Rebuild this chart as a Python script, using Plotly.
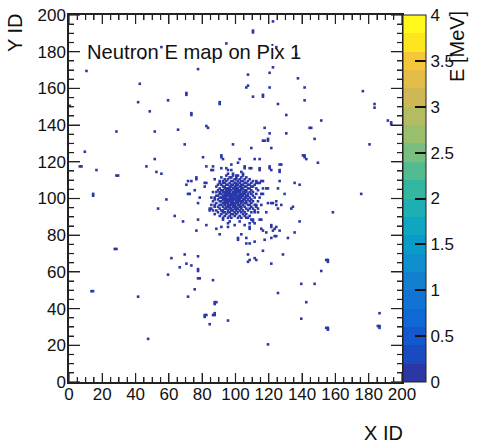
import numpy as np
import plotly.graph_objects as go

# (X ID, Y ID) of hit cells
upper_left_cells = [(10,169),(0,150),(9,125),(6,117),(7,117),(16,115),(14,102),(14,101),(28,136),(28,112),(29,112),
 (42,162),(41,152),(48,147),(44,176),(55,182),(59,153),(51,136),(51,121),(46,117),(52,114),(55,113),(70,157),(70,156),
 (73,146),(73,145),(65,137),(69,129),(77,170),(90,152),(90,151),(82,139),(83,138),(98,129),(94,184),(80,122),(91,123),
 (91,122),(92,121),(97,118),(101,119),(102,121),(82,117),(86,117),(85,115),(86,115),(91,116),(94,116),(87,110),(76,111),
 (76,110),(71,109),(73,109),(70,107),(81,108),(82,108),(81,106),(75,104),(71,102),(72,102),(78,100),(85,100),(87,100),(58,99)]
upper_right_cells = [(122,196),(110,190),(110,191),(124,182),(136,178),(107,167),(120,168),(122,171),(137,165),(106,160),
 (107,161),(120,160),(141,160),(110,155),(116,156),(116,155),(141,153),(176,158),(125,151),(183,151),(183,149),(130,145),
 (151,142),(191,142),(193,141),(193,140),(117,138),(144,138),(145,138),(120,135),(130,135),(147,132),(116,131),(117,131),
 (119,132),(119,131),(180,129),(109,127),(121,127),(140,123),(141,123),(141,122),(142,121),(111,121),(114,121),(149,119),
 (126,118),(127,118),(105,117),(105,116),(108,116),(109,116),(114,116),(114,115),(120,117),(120,116),(121,115),(126,115),
 (126,114),(126,109),(135,108),(138,107),(115,109),(116,109),(116,105),(118,105),(119,105),(125,105),(115,102),(116,102),
 (129,102),(175,102)]
lower_left_cells = [(53,94),(63,90),(68,87),(77,88),(77,97),(76,82),(82,85),(88,83),(91,84),(90,80),(92,88),(95,86),(95,84),
 (96,87),(99,85),(101,78),(101,77),(102,87),(27,72),(28,72),(69,69),(77,68),(61,67),(70,64),(73,63),(66,62),(77,61),(77,60),
 (59,58),(77,56),(78,56),(86,55),(75,50),(13,49),(14,49),(41,46),(71,46),(87,43),(88,43),(87,42),(81,36),(82,36),(81,35),
 (86,36),(87,37),(87,36),(95,33),(84,31),(47,23)]
lower_right_cells = [(119,20),(158,92),(138,87),(135,81),(128,69),(131,78),(121,78),(123,79),(124,79),(117,77),(106,78),
 (106,75),(108,75),(111,76),(116,71),(107,69),(111,67),(112,66),(107,65),(108,66),(121,64),(154,66),(155,66),(155,65),
 (151,60),(139,53),(147,53),(125,48),(142,43),(186,37),(139,34),(154,29),(155,29),(155,28),(185,30),(186,30),(186,29),
 (133,94),(134,95),(119,97),(122,97),(124,98),(127,96),(125,94),(118,92),(115,83),(116,82),(118,81),(121,85),(121,84),
 (122,82),(123,83),(124,84),(126,82),(114,88),(115,88),(108,84),(108,83),(111,86),(103,80),(105,85)]
halo_cells = [(95,115),(97,115),(103,114),(104,113),(95,113),(98,113),(100,112),(108,110),(110,109),(112,108),(114,108),
 (90,108),(86,103),(88,103),(90,103),(87,96),(85,94),(84,93),(90,94),(92,92),(94,91),(103,89),(106,91),(106,89),(109,88),
 (110,88),(108,86),(110,87),(111,92),(113,92),(110,94),(113,94),(112,96),(115,96),(118,92),(124,98),(124,96),(125,94),(121,97)]
core_rows = {
 112:[94,98,101,104], 111:[91,96,97,100,103,106], 110:[93,95,99,100,102,105,108],
 109:[90,92,94,97,98,101,103,104,107,110,112], 108:[92,93,96,99,100,102,105,106,109,113],
 107:[89,91,94,95,97,98,100,101,103,104,107,108,111], 106:[88,92,93,96,97,99,100,102,103,105,106,109,110],
 105:[90,93,94,95,96,98,99,100,101,103,104,107,108,112], 104:[89,91,92,94,95,96,97,99,100,101,102,103,105,106,109,113],
 103:[92,93,94,95,96,98,99,100,101,102,104,105,106,108,110], 102:[90,91,93,94,95,96,97,98,99,100,102,103,104,105,107,109,112],
 101:[88,89,92,93,94,95,96,97,98,99,100,101,102,103,104,106,107,110],
 100:[85,90,91,92,93,94,96,97,98,99,100,101,102,103,105,106,108,111,114],
 99:[87,89,92,93,94,95,96,97,98,99,100,101,102,104,105,107,109],
 98:[86,90,91,93,94,95,96,97,98,100,101,102,103,104,106,108,110,113],
 97:[88,92,93,94,95,97,98,99,100,101,103,105,106,109], 96:[85,90,91,93,95,96,97,98,99,101,102,104,107,108,111],
 95:[87,89,92,94,95,96,98,99,100,102,103,105,109,112], 94:[84,90,93,94,96,97,99,100,101,103,106,108,110],
 93:[86,88,91,92,95,97,98,100,102,104,107,111], 92:[89,93,95,96,99,101,103,105,109], 91:[87,91,94,97,98,100,104,106],
 90:[90,93,96,99,102,105,108], 89:[92,95,97,101,103,107]}
base_energy = 0.1
hot_cells = {(99,100):0.3, (100,99):0.3, (129,102):0.3, (14,49):0.3, (100,100):0.3, (98,101):0.3}

band_colors = ["#2a37a5","#1a4ac0","#1458cd","#1068d4","#1174d4","#1380cf","#0f8fcd","#0a9cc9","#0fa6c2","#1eafb4",
 "#33b7a0","#52bc90","#78bf7f","#99be6c","#b4bc62","#ceb755","#e3bd47","#f5c63a","#fde61e","#fff81a"]
z_min, z_max = 0, 4
bar_ticks = [0,0.5,1,1.5,2,2.5,3,3.5,4]
bar_labels = ["0","0.5","1","1.5","2","2.5","3","3.5","4"]
major_ticks = list(range(0,201,20))
minor_ticks = [v for v in range(0,201,5) if v % 20]

energy = {}
for cells in (upper_left_cells, upper_right_cells, lower_left_cells, lower_right_cells, halo_cells):
    for cell in cells:
        energy[cell] = base_energy
for yv, xvs in core_rows.items():
    for xv in xvs:
        energy[(xv, yv)] = base_energy
energy.update(hot_cells)
cell_x = np.array([c[0] for c in energy]) + 0.5
cell_y = np.array([c[1] for c in energy]) + 0.5
cell_e = np.array(list(energy.values()))

n = len(band_colors)
scale = []
for i, c in enumerate(band_colors):
    scale += [[i/n, c], [(i+1)/n, c]]

font = "Liberation Sans, Helvetica, Arial, sans-serif"
ink = "#111111"
fig = go.Figure(go.Scatter(x=cell_x, y=cell_y, mode="markers",
    marker=dict(symbol="square", size=2.6, line=dict(width=0), color=cell_e, cmin=z_min, cmax=z_max, colorscale=scale, showscale=True,
      colorbar=dict(x=1.002, xanchor="left", y=0, yanchor="bottom", len=1, lenmode="fraction", thickness=23, thicknessmode="pixels",
        xpad=0, ypad=0, outlinewidth=1, outlinecolor="#222222", borderwidth=0, ticks="inside", ticklen=11, tickwidth=1.5, tickcolor="#111111",
        tickmode="array", tickvals=bar_ticks, ticktext=bar_labels, tickfont=dict(family=font, size=17, color=ink)))))
def ax(ticklen, standoff):
    return dict(range=[0,200], tickmode="linear", tick0=0, dtick=20, ticks="inside", ticklen=ticklen, tickwidth=1.2, tickcolor="#222222",
        showline=True, linecolor="#222222", linewidth=1.5, mirror="ticks", showgrid=False, zeroline=False, ticklabelstandoff=standoff,
        minor=dict(dtick=5, tick0=0, ticks="inside", ticklen=5, tickwidth=1.2, tickcolor="#222222", showgrid=False),
        tickfont=dict(family=font, size=17, color=ink), automargin=False)

# tick marks along all four sides, placed through the axes' own scales
plot_w, plot_h = 333.0, 367.5
tick_shapes = []
for values, x_len, y_len in ((major_ticks, 9, 11), (minor_ticks, 5, 5)):
    for v in values:
        for a, b in ((0, x_len/plot_h), (1, 1-x_len/plot_h)):
            tick_shapes.append(dict(type="line", xref="x", yref="y domain", x0=v, x1=v, y0=a, y1=b, line=dict(color="#222222", width=1.2), layer="above"))
        for a, b in ((0, y_len/plot_w), (1, 1-y_len/plot_w)):
            tick_shapes.append(dict(type="line", xref="x domain", yref="y", x0=a, x1=b, y0=v, y1=v, line=dict(color="#222222", width=1.2), layer="above"))

fig.update_layout(width=482, height=446, margin=dict(l=69, r=80, t=15, b=63.5, pad=0), paper_bgcolor="white", plot_bgcolor="white",
    xaxis=ax(9, -4), yaxis=ax(11, -2), font=dict(family=font, color=ink), showlegend=False, shapes=tick_shapes,
    annotations=[
      dict(text="Neutron E map on Pix 1", xref="paper", yref="paper", x=(85-69)/333, y=(382.5-52)/367.5, xanchor="left", yanchor="middle", showarrow=False, font=dict(family=font,size=20.2,color=ink)),
      dict(text="X ID", xref="paper", yref="paper", x=(383-69)/333, y=(382.5-434)/367.5, xanchor="center", yanchor="middle", showarrow=False, font=dict(family=font,size=20,color=ink)),
      dict(text="Y ID", xref="paper", yref="paper", x=(15-69)/333, y=(382.5-33)/367.5, xanchor="center", yanchor="middle", textangle=-90, showarrow=False, font=dict(family=font,size=20,color=ink)),
      dict(text="E [MeV]", xref="paper", yref="paper", x=(457-69)/333, y=(382.5-47)/367.5, xanchor="center", yanchor="middle", textangle=-90, showarrow=False, font=dict(family=font,size=20,color=ink)),
    ])
fig.write_html("out.html", post_script="document.body.style.margin='0';", config=dict(displayModeBar=False))
